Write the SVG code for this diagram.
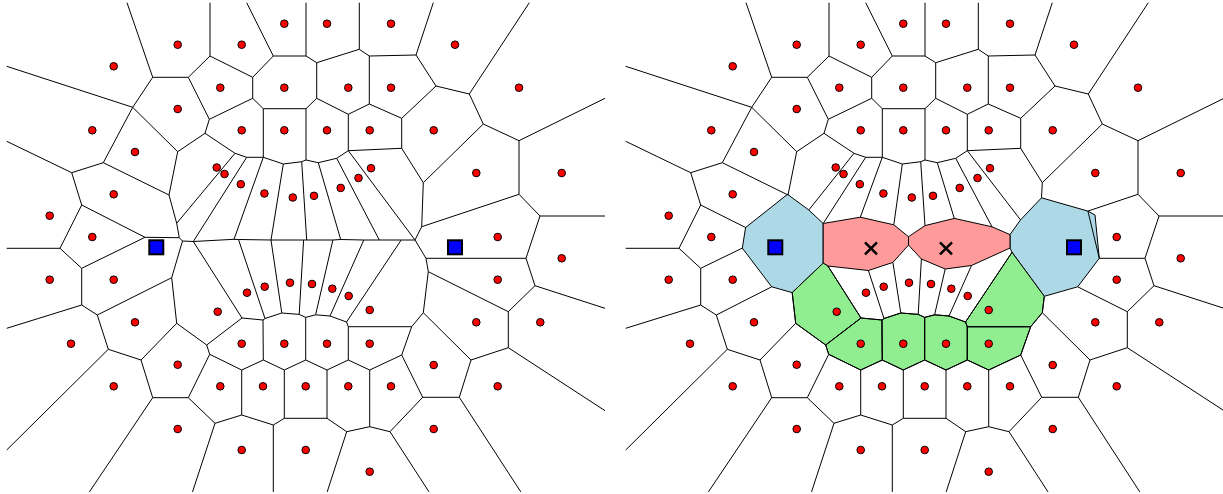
<svg xmlns="http://www.w3.org/2000/svg" xmlns:xlink="http://www.w3.org/1999/xlink" width="1223" height="494" viewBox="0 0 1223 494">
<style>
.e{fill:none;stroke:#000;stroke-width:1;stroke-linejoin:round}
.s{fill:#f00;stroke:#000;stroke-width:1}
.b{fill:#00f;stroke:#000;stroke-width:2}
.x{fill:none;stroke:#000;stroke-width:2.5}
.cb{fill:#add8e6;stroke:#000;stroke-width:1}
.cr{fill:#ff9a9a;stroke:#000;stroke-width:1}
.cg{fill:#90ee90;stroke:#000;stroke-width:1}
</style>
<defs>
<path id="common" class="e" d="M127,2.7 L152.7,77.3 L188.3,77.3 L210,56 M152.7,77.3 L132.7,107.3 M6.7,66.3 L132.7,107.3 M132.7,107.3 L177.7,151.7 L205,133.3 M188.3,77.3 L209.3,119.3 L205,133.3 M132.7,107.3 L103.3,162.7 L71.7,172.7 L6.7,141.3 M103.3,162.7 L169,195 L177.7,151.7 M71.7,172.7 L81.7,205 L60,248.3 L6.7,248.3 M60,248.3 L81.7,268.3 L81.7,305 L6.7,328.3 M81.7,305 L97.3,315 L108.3,349.3 L6.7,450 M108.3,349.3 L141,360 L176.7,323.3 L206.7,345 L209.7,354.3 L188.3,397.7 L152.7,397.7 L141,360 M152.7,397.7 L89.4,491.9 M188.3,397.7 L215,423.3 L192.5,491.9 M215,423.3 L241.7,415 L273.3,425 L284.3,418.3 L327,418.3 L346.7,431.7 L369.7,426.7 L390,431.7 L429,491.9 M273.3,425 L273.3,491.9 M346.7,431.7 L327.2,491.9 M209.7,354.3 L241.7,370 L263.3,360 L284.3,370 L305.7,360 L327,370 L348.3,360 L369.7,370 L401.7,355 M241.7,370 L241.7,415 M284.3,370 L284.3,418.3 M327,370 L327,418.3 M369.7,370 L369.7,426.7 M206.7,345 L242,318 L263,320 L265,318.5 L281.8,313 L299.2,314.4 L305.7,317.4 L315.6,314.8 L330,316 L346.5,322 L348.3,326.7 L411.7,326.7 L401.7,355 L422.7,397.3 L390,431.7 M263,320 L263.3,360 M305.7,317.4 L305.7,360 M348.3,326.7 L348.3,360 M411.7,326.7 L423.3,312.7 L471,360 L508.3,347.7 L508.3,311.7 L535,285.7 L526,258.3 L540,216 L605,216 M535,285.7 L605,308.3 M508.3,347.7 L605,410.7 M471,360 L459.3,397.3 L422.7,397.3 M459.3,397.3 L520.8,491.9 M540,216 L519,194.3 L519,140.7 L605,98.3 M519,140.7 L483.3,124 L469.3,94 L529.3,2.7 M483.3,124 L423.3,182.7 L401.7,148.3 L401.7,118.3 L436,86 L469.3,94 M436,86 L416,55 L433.3,2.7 M416,55 L369.3,56 L359.3,49.3 L359.3,2.7 M359.3,49.3 L316.7,62.7 L306,56 L306,2.7 M306,56 L273.3,56 L246.7,2.7 M273.3,56 L252.7,77.3 L210,56 L210,2.7 M252.7,77.3 L252.7,98.3 L263.3,108.7 L306,108.7 L316.7,98.3 L316.7,62.7 M316.7,98.3 L348.3,114.3 L369.3,104 L369.3,56 M369.3,104 L401.7,118.3 M252.7,98.3 L209.3,119.3 M263.3,108.7 L263.3,157.3 M306,108.7 L306,160 M348.3,114.3 L348.3,150.7 M401.7,148.3 L348.3,150.7 M205,133.3 L235,153.3 L246.7,157.3 L263.3,157.3 L283.3,164 L301.7,161.7 L306,160 L318.3,162.7 L336.7,158.3 L348.3,150.7"/>
<g id="sites">
<circle class="s" cx="284.3" cy="23.7" r="3.8"/><circle class="s" cx="327" cy="23.7" r="3.8"/><circle class="s" cx="391" cy="23.7" r="3.8"/>
<circle class="s" cx="177.7" cy="44.7" r="3.8"/><circle class="s" cx="241.7" cy="44.7" r="3.8"/><circle class="s" cx="455" cy="44.7" r="3.8"/>
<circle class="s" cx="113.7" cy="66.3" r="3.8"/>
<circle class="s" cx="220.3" cy="87.7" r="3.8"/><circle class="s" cx="284.3" cy="87.7" r="3.8"/><circle class="s" cx="348.3" cy="87.7" r="3.8"/><circle class="s" cx="391" cy="87.7" r="3.8"/><circle class="s" cx="519" cy="87.7" r="3.8"/>
<circle class="s" cx="177.7" cy="109" r="3.8"/>
<circle class="s" cx="92.3" cy="130.3" r="3.8"/><circle class="s" cx="241.7" cy="130.3" r="3.8"/><circle class="s" cx="284.3" cy="130.3" r="3.8"/><circle class="s" cx="327" cy="130.3" r="3.8"/><circle class="s" cx="369.7" cy="130.3" r="3.8"/><circle class="s" cx="433.7" cy="130.3" r="3.8"/>
<circle class="s" cx="135" cy="152" r="3.8"/>
<circle class="s" cx="476.3" cy="173" r="3.8"/><circle class="s" cx="561.7" cy="173" r="3.8"/>
<circle class="s" cx="113.7" cy="194.3" r="3.8"/><circle class="s" cx="49.7" cy="215.7" r="3.8"/>
<circle class="s" cx="92.3" cy="237" r="3.8"/><circle class="s" cx="497.7" cy="237" r="3.8"/>
<circle class="s" cx="216.7" cy="167.5" r="3.8"/><circle class="s" cx="224.5" cy="174" r="3.8"/><circle class="s" cx="240.8" cy="184.2" r="3.8"/><circle class="s" cx="264.4" cy="193.5" r="3.8"/><circle class="s" cx="292.8" cy="197.5" r="3.8"/><circle class="s" cx="314" cy="195.8" r="3.8"/><circle class="s" cx="340.7" cy="187.9" r="3.8"/><circle class="s" cx="358.5" cy="178" r="3.8"/><circle class="s" cx="371" cy="168.2" r="3.8"/>
<circle class="s" cx="247" cy="292.7" r="3.8"/><circle class="s" cx="264.7" cy="286.7" r="3.8"/><circle class="s" cx="290" cy="282.7" r="3.8"/><circle class="s" cx="312" cy="284" r="3.8"/><circle class="s" cx="332.3" cy="288.7" r="3.8"/><circle class="s" cx="348.7" cy="296" r="3.8"/>
<circle class="s" cx="561.7" cy="258.3" r="3.8"/>
<circle class="s" cx="49.7" cy="279.7" r="3.8"/><circle class="s" cx="113.7" cy="279.7" r="3.8"/><circle class="s" cx="497.7" cy="279.7" r="3.8"/>
<circle class="s" cx="217.7" cy="311.7" r="3.8"/><circle class="s" cx="369.7" cy="310" r="3.8"/>
<circle class="s" cx="135" cy="322.3" r="3.8"/><circle class="s" cx="476.3" cy="322.3" r="3.8"/><circle class="s" cx="540.3" cy="322.3" r="3.8"/>
<circle class="s" cx="71" cy="343.7" r="3.8"/><circle class="s" cx="241.7" cy="343.7" r="3.8"/><circle class="s" cx="284.3" cy="343.7" r="3.8"/><circle class="s" cx="327" cy="343.7" r="3.8"/><circle class="s" cx="369.7" cy="343.7" r="3.8"/>
<circle class="s" cx="177.7" cy="364.7" r="3.8"/><circle class="s" cx="433.7" cy="365" r="3.8"/>
<circle class="s" cx="113.7" cy="386.3" r="3.8"/><circle class="s" cx="220.3" cy="386.3" r="3.8"/><circle class="s" cx="263" cy="386.3" r="3.8"/><circle class="s" cx="305.7" cy="386.3" r="3.8"/><circle class="s" cx="348.3" cy="386.3" r="3.8"/><circle class="s" cx="391" cy="386.3" r="3.8"/><circle class="s" cx="497.7" cy="386.3" r="3.8"/>
<circle class="s" cx="177.7" cy="429" r="3.8"/><circle class="s" cx="433.7" cy="429" r="3.8"/>
<circle class="s" cx="241.7" cy="450" r="3.8"/><circle class="s" cx="305.7" cy="450" r="3.8"/>
<circle class="s" cx="369.7" cy="471.7" r="3.8"/>
</g>
<g id="squares">
<rect class="b" x="149.3" y="240.3" width="14" height="14"/>
<rect class="b" x="448" y="240.3" width="14" height="14"/>
</g>
</defs>
<g id="left-panel">
<g id="left-connectors">
<use href="#common"/>
<path class="e" d="M169,195 L176.7,223.3 L235,153.3 M176.7,223.3 L179.3,237.7 L145,237.3 L81.7,205 M145,237.3 L81.7,268.3 M179.3,237.7 L182.5,241 L171.7,277.7 L97.3,315 M171.7,277.7 L176.7,323.3 M182.5,241 L193.3,241.5 L234,239.3 L238.5,239.5 L271,240 L303.6,240 L306.7,240 L332.9,240 L340.7,239.5 L363.8,240 L379.3,240 L401.2,240 L415,240 L426,258.3 L526,258.3 M415,240 L421.7,226.7 L519,194.3 M421.7,226.7 L423.3,182.7 M426,258.3 L428.3,271.7 L423.3,312.7 M428.3,271.7 L508.3,311.7 M193.3,241.5 L246.7,157.3 M234,239.3 L263.3,157.3 M271,240 L283.3,164 M306.7,240 L301.7,161.7 M340.7,239.5 L318.3,162.7 M379.3,240 L336.7,158.3 M415,240 L348.3,150.7 M193.3,241.5 L242,318 M238.5,239.5 L265,318.5 M271,240 L281.8,313 M303.6,240 L299.2,314.4 M332.9,240 L315.6,314.8 M363.8,240 L330,316 M401.2,240 L346.5,322"/>
</g>
<use href="#sites"/>
<use href="#squares"/>
</g>
<g id="right-panel" transform="translate(619,0)">
<g id="right-cells">
<polygon id="cell-s1" class="cb" points="168.5,194.3 189.8,210 204.2,223.5 204.2,263.1 173.2,292.6 152.7,286.8 123.3,248.1 126.6,227.5"/>
<polygon id="cell-s2" class="cb" points="391,234.6 401.5,219.9 422.5,197.8 468.9,211.1 476,215 480.3,258.3 458.7,286.8 425.3,296.3 393,252.3 391,248"/>
<polygon id="cell-x1" class="cr" points="204.2,223.5 241.3,217.2 274.8,224.8 289.5,236.7 289.5,245.1 273.9,262.4 249.4,270.5 208.9,266 204.2,263.1"/>
<polygon id="cell-x2" class="cr" points="289.5,236.7 306,225.6 335.3,218.4 373,226.8 391,234.6 391,248 352.5,265.5 326.2,269 302.4,259 289.5,245.1"/>
<polygon id="cell-m" class="cg" points="173.2,292.6 204.2,263.1 208.9,266 242,318 206.7,345 176.7,323.3"/>
<polygon id="cell-k" class="cg" points="206.7,345 242,318 263,320 263.3,360 241.7,370 209.7,354.3"/>
<polygon id="cell-t1" class="cg" points="263,320 265,318.5 281.8,313 299.2,314.4 305.7,317.4 305.7,360 284.3,370 263.3,360"/>
<polygon id="cell-t2" class="cg" points="305.7,317.4 315.6,314.8 330,316 346.5,322 348.3,326.7 348.3,360 327,370 305.7,360"/>
<polygon id="cell-t3" class="cg" points="348.3,326.7 411.7,326.7 401.7,355 369.7,370 348.3,360"/>
<polygon id="cell-r" class="cg" points="346.5,322 393,252.3 425.3,296.3 423.3,312.7 411.7,326.7 348.3,326.7"/>
</g>
<g id="right-connectors">
<use href="#common"/>
<path class="e" d="M81.7,205 L126.6,227.5 M123.3,248.1 L81.7,268.3 M97.3,315 L152.7,286.8 M173.2,292.6 L176.7,323.3 M189.8,210 L235,153.3 M204.2,223.5 L246.7,157.3 M241.3,217.2 L263.3,157.3 M274.8,224.8 L283.3,164 M306,225.6 L301.7,161.7 M335.3,218.4 L318.3,162.7 M373,226.8 L336.7,158.3 M401.5,219.9 L348.3,150.7 M208.9,266 L242,318 M249.4,270.5 L265,318.5 M273.9,262.4 L281.8,313 M302.4,259 L299.2,314.4 M326.2,269 L315.6,314.8 M352.5,265.5 L330,316 M393,252.3 L346.5,322 M423.3,182.7 L422.5,197.8 M468.9,211.1 L519,194.3 M468.9,211.1 L480.3,258.3 L526,258.3 M458.7,286.8 L508.3,311.7 M425.3,296.3 L423.3,312.7"/>
</g>
<use href="#sites"/>
<use href="#squares"/>
<g id="x-markers">
<path class="x" d="M246,242.3 L258,254.3 M246,254.3 L258,242.3"/>
<path class="x" d="M321,242.3 L333,254.3 M321,254.3 L333,242.3"/>
</g>
</g>
</svg>
